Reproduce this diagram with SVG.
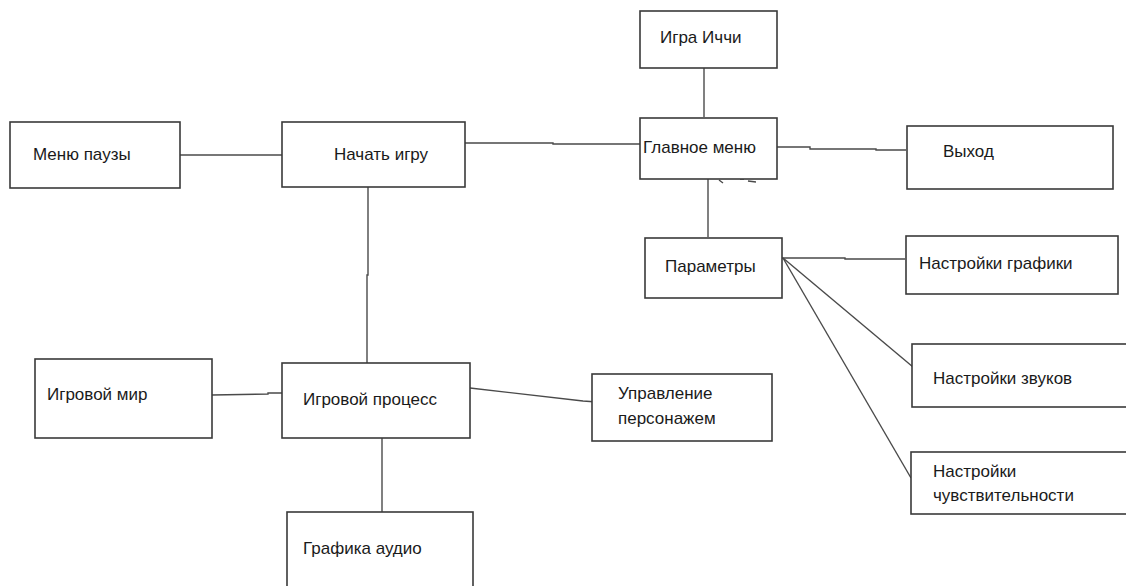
<svg xmlns="http://www.w3.org/2000/svg" width="1126" height="586" viewBox="0 0 1126 586">
<style>
.box{fill:#fff;stroke:#3a3a3a;stroke-width:1.6}
.t{font-family:"Liberation Sans",Arial,sans-serif;font-size:17px;fill:#1a1a1a}
.c{fill:none;stroke:#4a4a4a;stroke-width:1.4}
</style>
<rect width="1126" height="586" fill="#fff"/>
<g id="connectors">
<path class="c" d="M704,68 V117"/>
<path class="c" d="M180,155 H282"/>
<path class="c" d="M465,143 H553 L553,144 H640"/>
<path class="c" d="M777,147 H810 L810,149 H876 L876,150 H906"/>
<path class="c" d="M708,179 V237"/>
<path class="c" d="M782,258 H845 L845,259 H905"/>
<path class="c" d="M783,258 L913,367"/>
<path class="c" d="M783,258 L911,478"/>
<path class="c" d="M368,187 V275 L367,275 V363"/>
<path class="c" d="M212,395 L268,394 L268,393 H282"/>
<path class="c" d="M470,388 L583,401 L597,402"/>
<path class="c" d="M382,438 V512"/>
<path class="c" d="M719,180 L723,183 M740,179 H744 M748,181 L756,182"/>
</g>
<g id="igra-ichchi"><rect class="box" x="640" y="11" width="137" height="57"/><text class="t" x="660" y="43">Игра Иччи</text></g>
<g id="glavnoe-menyu"><rect class="box" x="640" y="118" width="137" height="61"/><text class="t" x="643" y="153">Главное меню</text></g>
<g id="vyhod"><rect class="box" x="907" y="126" width="206" height="63"/><text class="t" x="943" y="157">Выход</text></g>
<g id="parametry"><rect class="box" x="645" y="238" width="137" height="60"/><text class="t" x="665" y="272">Параметры</text></g>
<g id="nastroyki-grafiki"><rect class="box" x="906" y="236" width="212" height="58"/><text class="t" x="919" y="269">Настройки графики</text></g>
<g id="nastroyki-zvukov"><rect class="box" x="912" y="344" width="216" height="63"/><text class="t" x="933" y="384">Настройки звуков</text></g>
<g id="nastroyki-chuvstvitelnosti"><rect class="box" x="911" y="452" width="217" height="62"/><text class="t" x="933" y="477">Настройки</text><text class="t" x="933" y="501">чувствительности</text></g>
<g id="menyu-pauzy"><rect class="box" x="10" y="122" width="170" height="66"/><text class="t" x="33" y="160">Меню паузы</text></g>
<g id="nachat-igru"><rect class="box" x="282" y="122" width="183" height="65"/><text class="t" x="334" y="160">Начать игру</text></g>
<g id="igrovoy-mir"><rect class="box" x="35" y="359" width="177" height="79"/><text class="t" x="47" y="400">Игровой мир</text></g>
<g id="igrovoy-process"><rect class="box" x="282" y="363" width="188" height="75"/><text class="t" x="303" y="405">Игровой процесс</text></g>
<g id="upravlenie-personazhem"><rect class="box" x="592" y="374" width="180" height="67"/><text class="t" x="618" y="399">Управление</text><text class="t" x="618" y="424">персонажем</text></g>
<g id="grafika-audio"><rect class="box" x="287" y="512" width="186" height="80"/><text class="t" x="303" y="554">Графика аудио</text></g>
</svg>
